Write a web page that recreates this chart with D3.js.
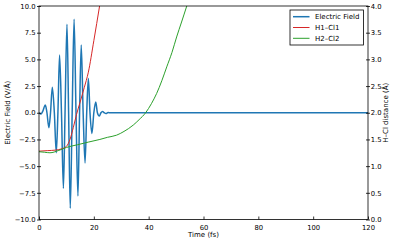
<!DOCTYPE html>
<html>
<head>
<meta charset="utf-8">
<script src="https://cdn.jsdelivr.net/npm/d3@7"></script>
<style>
  body { margin: 0; background: #fff; }
  text { font-family: "DejaVu Sans", sans-serif; fill: #000; }
</style>
</head>
<body>
<div id="viz"></div>
<script>
const colorField = "#1f77b4";
const colorH1 = "#d62728";
const colorH2 = "#2ca02c";

const w = 396, h = 242;

// electric field (V/Å) vs time (fs)
const fieldTime = [0, 0.7, 1.4, 2.3, 2.9, 3.6, 4.2, 4.85, 5.6, 6.3, 6.9, 7.5, 8.2, 8.9, 9.5, 10.2, 10.8, 11.4, 12.1, 12.8, 13.5, 14.2, 14.8, 15.4, 16.1, 16.8, 17.4, 18, 18.6, 19.3, 20, 20.7, 21.3, 22, 22.6, 23.2, 23.8, 24.4, 25.2, 26, 27, 120];
const fieldValue = [0, -0.12, 0.15, 0.73, 0, -1.4, 0, 2.4, 0, -3.75, 0, 5.4, 0, -7.1, 0, 8.3, 0, -8.95, 0, 8.75, 0, -7.8, 0, 6.35, 0, -4.7, 0, 3.2, 0, -1.95, 0, 1.0, 0, -0.3, 0, 0.12, 0, -0.08, 0.02, 0, 0, 0];

// H1-Cl1 distance (Å)
const h1Time = [0, 3, 6, 8, 10, 11.3, 12.5, 13.7, 15, 16.5, 18, 20, 22.1, 24];
const h1Dist = [1.28, 1.29, 1.30, 1.32, 1.37, 1.5, 1.72, 1.97, 2.2, 2.47, 2.76, 3.35, 4.0, 4.6];

// H2-Cl2 distance (Å)
const h2Time = [0, 2, 4, 7, 10, 14, 18, 22.2, 25, 28.3, 31, 34.4, 36.5, 38.9, 41, 42.9, 44.8, 46.6, 48.5, 50.2, 52, 53.9, 56];
const h2Dist = [1.27, 1.26, 1.25, 1.29, 1.35, 1.40, 1.45, 1.50, 1.54, 1.58, 1.65, 1.77, 1.87, 2.0, 2.17, 2.36, 2.6, 2.86, 3.13, 3.42, 3.7, 4.0, 4.35];

const leftTicks = [-10, -7.5, -5, -2.5, 0, 2.5, 5, 7.5, 10];
const rightTicks = [0, 0.5, 1, 1.5, 2, 2.5, 3, 3.5, 4];
const xTicks = [0, 20, 40, 60, 80, 100, 120];
const seriesNames = ["Electric Field", "H1\u2013Cl1", "H2\u2013Cl2"];

const svg = d3.select("#viz")
  .append("svg")
  .attr("width", w)
  .attr("height", h);

const plot = { left: 39, right: 368, top: 6, bottom: 219.5 };

const xScale = d3.scaleLinear().domain([0, 120]).range([plot.left, plot.right]);
const yLeft = d3.scaleLinear().domain([-10, 10]).range([plot.bottom, plot.top]);
const yRight = d3.scaleLinear().domain([0, 4]).range([plot.bottom, plot.top]);

svg.append("clipPath").attr("id", "clip")
  .append("rect")
  .attr("x", plot.left).attr("y", plot.top)
  .attr("width", plot.right - plot.left).attr("height", plot.bottom - plot.top);

const g = svg.append("g").attr("clip-path", "url(#clip)");

const fmt = d => (d < 0 ? "\u2212" : "") + Math.abs(d).toFixed(1);

const fieldLine = d3.line()
  .x(d => xScale(d[0])).y(d => yLeft(d[1]))
  .curve(d3.curveMonotoneX);
const distLine = d3.line()
  .x(d => xScale(d[0])).y(d => yRight(d[1]))
  .curve(d3.curveMonotoneX);

g.append("path")
  .datum(d3.zip(fieldTime, fieldValue))
  .attr("d", fieldLine)
  .attr("fill", "none")
  .attr("stroke", colorField)
  .attr("stroke-width", 1.5)
  .attr("stroke-linejoin", "round");

g.append("path")
  .datum(d3.zip(h1Time, h1Dist))
  .attr("d", distLine)
  .attr("fill", "none")
  .attr("stroke", colorH1)
  .attr("stroke-width", 1);

g.append("path")
  .datum(d3.zip(h2Time, h2Dist))
  .attr("d", distLine)
  .attr("fill", "none")
  .attr("stroke", colorH2)
  .attr("stroke-width", 1);

// axes
const styleAxis = sel => {
  sel.select(".domain").remove();
  sel.selectAll("text").style("font-size", "6.8px").style("font-family", "DejaVu Sans");
  sel.selectAll("line").attr("stroke", "#000").attr("stroke-width", 0.8);
};

svg.append("g")
  .attr("transform", `translate(0,${plot.bottom})`)
  .call(d3.axisBottom(xScale).tickValues(xTicks).tickSize(-3).tickPadding(6).tickFormat(d3.format("d")))
  .call(styleAxis);

svg.append("g")
  .attr("transform", `translate(${plot.left},0)`)
  .call(d3.axisLeft(yLeft).tickValues(leftTicks).tickSize(2).tickPadding(1.5).tickFormat(fmt))
  .call(styleAxis)
  .selectAll(".tick line").attr("x2", 2).attr("x1", -2);

svg.append("g")
  .attr("transform", `translate(${plot.right},0)`)
  .call(d3.axisRight(yRight).tickValues(rightTicks).tickSize(2).tickPadding(0.8).tickFormat(fmt))
  .call(styleAxis)
  .selectAll(".tick line").attr("x1", -2).attr("x2", 2);

svg.append("rect")
  .attr("x", plot.left).attr("y", plot.top)
  .attr("width", plot.right - plot.left).attr("height", plot.bottom - plot.top)
  .attr("fill", "none").attr("stroke", "#000").attr("stroke-width", 0.8);

// axis labels
svg.append("text")
  .attr("x", (plot.left + plot.right) / 2).attr("y", 237)
  .attr("text-anchor", "middle").style("font-size", "7px")
  .text("Time (fs)");

svg.append("text")
  .attr("transform", `translate(10,${(plot.top + plot.bottom) / 2}) rotate(-90)`)
  .attr("text-anchor", "middle").style("font-size", "7px")
  .text("Electric Field (V/\u00c5)");

svg.append("text")
  .attr("transform", `translate(388,${(plot.top + plot.bottom) / 2}) rotate(-90)`)
  .attr("text-anchor", "middle").style("font-size", "7px")
  .text("H\u2013Cl distance (\u00c5)");

// legend
const legend = svg.append("g");
legend.append("rect")
  .attr("x", 290).attr("y", 10).attr("width", 73.5).attr("height", 35)
  .attr("fill", "#fff").attr("stroke", "#000").attr("stroke-width", 0.8);

const legendColors = [colorField, colorH1, colorH2];
seriesNames.forEach((name, i) => {
  const y = 16.7 + i * 10.8;
  legend.append("line")
    .attr("x1", 293).attr("x2", 309.5).attr("y1", y).attr("y2", y)
    .attr("stroke", legendColors[i]).attr("stroke-width", i === 0 ? 1.5 : 1);
  legend.append("text")
    .attr("x", 315).attr("y", y).attr("dy", "0.35em")
    .style("font-size", "7px")
    .text(name);
});
</script>
</body>
</html>
